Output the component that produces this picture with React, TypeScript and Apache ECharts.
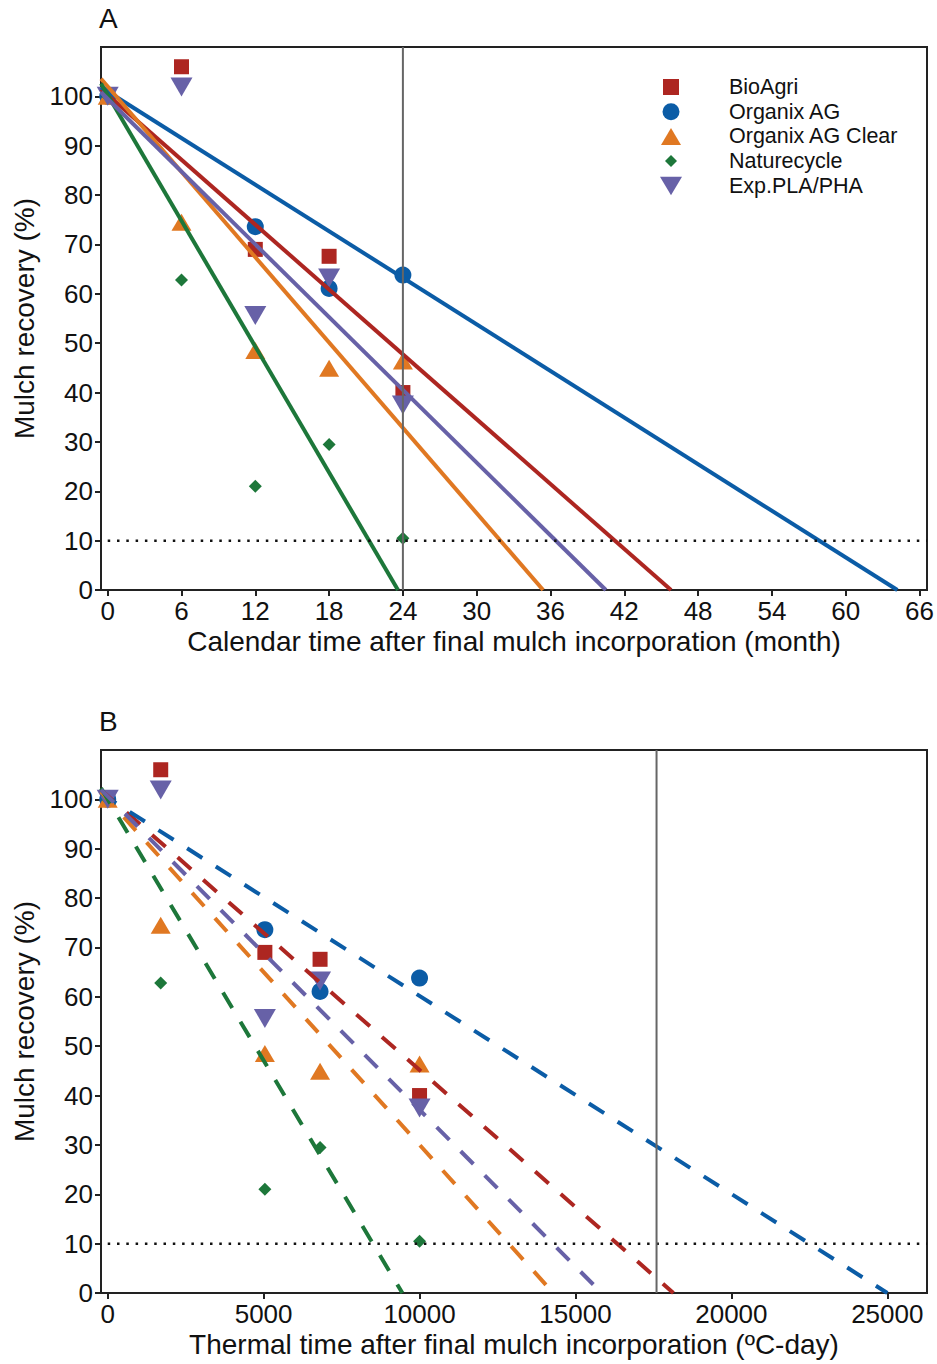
import React, { useEffect, useRef } from "react";
import * as echarts from "echarts";

const FONT = "'Liberation Sans', Arial, Helvetica, sans-serif";

const seriesNames = ["BioAgri", "Organix AG", "Organix AG Clear", "Naturecycle", "Exp.PLA/PHA"];
const seriesColors = ["#AD2621", "#0B5CA6", "#E07822", "#1D773A", "#6761A7"];

// sampling times
const calendarMonths = [0, 6, 12, 18, 24];
const thermalDays = [0, 1700, 5040, 6810, 10000];

// mulch recovery (%) at each sampling time
const bioAgri = [100, 106, 69, 67.6, 40];
const organixAG = [100, null, 73.6, 61.1, 63.8];
const organixAGClear = [100, 74.5, 48.5, 44.9, 46.4];
const naturecycle = [100, 62.8, 21.0, 29.5, 10.5];
const expPlaPha = [100, 101.9, 55.6, 63.2, 37.5];
const recovery = [bioAgri, organixAG, organixAGClear, naturecycle, expPlaPha];

// fitted linear regressions: intercept (%) and time where recovery reaches 0
const fitInterceptA = [100.3, 101, 102, 100.3, 99.5];
const fitZeroMonth = [45.8, 64.2, 35.4, 23.6, 40.5];
const fitInterceptB = [100.7, 100.3, 100, 100, 100.6];
const fitZeroThermal = [18140, 25000, 14290, 9450, 15843];

// reference lines
const thresholdRecovery = 10;
const verticalMonth = 24;
const verticalThermal = 17600;

// axis ticks
const monthTicks = [0, 6, 12, 18, 24, 30, 36, 42, 48, 54, 60, 66];
const thermalTicks = [0, 5000, 10000, 15000, 20000, 25000];
const recoveryTicks = [0, 10, 20, 30, 40, 50, 60, 70, 80, 90, 100];

const X_A_MIN = -0.545;
const X_A_MAX = 66.61;
const X_B_MIN = -215;
const X_B_MAX = 26273;
const Y_MIN = 0;
const Y_MAX = 110;

const markerSymbols = [
  "rect",
  "circle",
  "triangle",
  "diamond",
  "path://M0,0L22,0L11,19Z",
];
const markerSizes: any[] = [[15, 15], 17, [20, 17], [13, 13], [22, 19]];
const legendIcons = [
  "path://M0,0M22,19M3,1.5L19,1.5L19,17.5L3,17.5Z",
  "path://M0,0M22,19M2.5,9.5A8.5,8.5,0,1,0,19.5,9.5A8.5,8.5,0,1,0,2.5,9.5Z",
  "path://M0,0M22,19M1,18L11,1L21,18Z",
  "path://M0,0M22,19M11,3.5L17,9.5L11,15.5L5,9.5Z",
  "path://M0,0M22,19M0,0.5L22,0.5L11,19Z",
];

const INK = "#111";
const AXIS_COLOR = "#222";

function makeXAxis(gridIndex: number, min: number, max: number, ticks: number[], name: string) {
  return {
    type: "value",
    gridIndex,
    min,
    max,
    name,
    nameLocation: "middle",
    nameGap: 37,
    nameTextStyle: { fontSize: 28, color: INK, fontFamily: FONT },
    axisLine: { show: true, onZero: false, lineStyle: { color: AXIS_COLOR, width: 2 } },
    axisTick: { show: true, length: 6, customValues: ticks, lineStyle: { color: AXIS_COLOR, width: 2 } },
    axisLabel: {
      customValues: ticks,
      fontSize: 26,
      color: INK,
      margin: 8,
      fontFamily: FONT,
      formatter: (v: number) => String(v),
    },
    splitLine: { show: false },
  };
}

function makeYAxis(gridIndex: number) {
  return {
    type: "value",
    gridIndex,
    min: Y_MIN,
    max: Y_MAX,
    name: "Mulch recovery (%)",
    nameLocation: "middle",
    nameGap: 60,
    nameTextStyle: { fontSize: 28, color: INK, fontFamily: FONT },
    axisLine: { show: true, onZero: false, lineStyle: { color: AXIS_COLOR, width: 2 } },
    axisTick: { show: true, length: 6, customValues: recoveryTicks, lineStyle: { color: AXIS_COLOR, width: 2 } },
    axisLabel: {
      customValues: recoveryTicks,
      fontSize: 26,
      color: INK,
      margin: 8,
      fontFamily: FONT,
      formatter: (v: number) => String(v),
    },
    splitLine: { show: false },
  };
}

function buildSeries() {
  const series: any[] = [];
  const panels = [
    { idx: 0, times: calendarMonths, xMin: X_A_MIN, xMax: X_A_MAX, intercepts: fitInterceptA, zeros: fitZeroMonth, dashed: false, vline: verticalMonth },
    { idx: 1, times: thermalDays, xMin: X_B_MIN, xMax: X_B_MAX, intercepts: fitInterceptB, zeros: fitZeroThermal, dashed: true, vline: verticalThermal },
  ];
  panels.forEach((p) => {
    seriesNames.forEach((name, i) => {
      const data = p.times
        .map((t, k) => [t, recovery[i][k]])
        .filter((d) => d[1] !== null);
      series.push({
        type: "scatter",
        name,
        xAxisIndex: p.idx,
        yAxisIndex: p.idx,
        data,
        symbol: markerSymbols[i],
        symbolSize: markerSizes[i],
        itemStyle: { color: seriesColors[i], opacity: 1 },
        z: 2,
        silent: true,
      });
    });
    seriesNames.forEach((name, i) => {
      const a = p.intercepts[i];
      const z = p.zeros[i];
      series.push({
        type: "line",
        name: name + " fit " + (p.idx === 0 ? "A" : "B"),
        xAxisIndex: p.idx,
        yAxisIndex: p.idx,
        data: [
          [p.xMin, a * (1 - p.xMin / z)],
          [z, 0],
        ],
        symbol: "none",
        showSymbol: false,
        lineStyle: {
          color: seriesColors[i],
          width: 4,
          type: p.dashed ? [18, 16] : "solid",
        },
        z: 3,
        silent: true,
      });
    });
    series.push({
      type: "line",
      name: "threshold " + p.idx,
      xAxisIndex: p.idx,
      yAxisIndex: p.idx,
      data: [
        [0, thresholdRecovery],
        [p.xMax, thresholdRecovery],
      ],
      symbol: "none",
      lineStyle: { color: INK, width: 2.5, type: [2.5, 6.8] },
      z: 3,
      silent: true,
    });
    series.push({
      type: "line",
      name: "reference " + p.idx,
      xAxisIndex: p.idx,
      yAxisIndex: p.idx,
      data: [
        [p.vline, Y_MIN],
        [p.vline, Y_MAX],
      ],
      symbol: "none",
      lineStyle: { color: "#666", width: 2 },
      z: 4,
      silent: true,
    });
  });
  return series;
}

export default function App() {
  const ref = useRef<HTMLDivElement>(null);
  useEffect(() => {
    if (!ref.current) return;
    const chart = echarts.init(ref.current, undefined, { renderer: "svg" });
    chart.setOption({
      animation: false,
      textStyle: { fontFamily: FONT },
      grid: [
        { left: 101, top: 47, width: 826, height: 543, show: true, borderColor: AXIS_COLOR, borderWidth: 2, backgroundColor: "transparent" },
        { left: 101, top: 750, width: 826, height: 543, show: true, borderColor: AXIS_COLOR, borderWidth: 2, backgroundColor: "transparent" },
      ],
      xAxis: [
        makeXAxis(0, X_A_MIN, X_A_MAX, monthTicks, "Calendar time after final mulch incorporation (month)"),
        makeXAxis(1, X_B_MIN, X_B_MAX, thermalTicks, "Thermal time after final mulch incorporation (ºC-day)"),
      ],
      yAxis: [makeYAxis(0), makeYAxis(1)],
      legend: {
        data: seriesNames.map((n, i) => ({ name: n, icon: legendIcons[i] })),
        orient: "vertical",
        left: 655,
        top: 71,
        itemWidth: 22,
        itemHeight: 19,
        itemGap: 2.7,
        selectedMode: false,
        textStyle: { fontSize: 21.5, color: INK, fontFamily: FONT, padding: [0, 0, 0, 42] },
      },
      graphic: [
        { type: "text", left: 99, top: 4, style: { text: "A", fontSize: 28, fill: INK, fontFamily: FONT } },
        { type: "text", left: 99, top: 707, style: { text: "B", fontSize: 28, fill: INK, fontFamily: FONT } },
      ],
      series: buildSeries(),
    });
    return () => chart.dispose();
  }, []);
  return (
    <div
      ref={ref}
      style={{ position: "absolute", left: 0, top: 0, width: 937, height: 1364, background: "#fff" }}
    />
  );
}
